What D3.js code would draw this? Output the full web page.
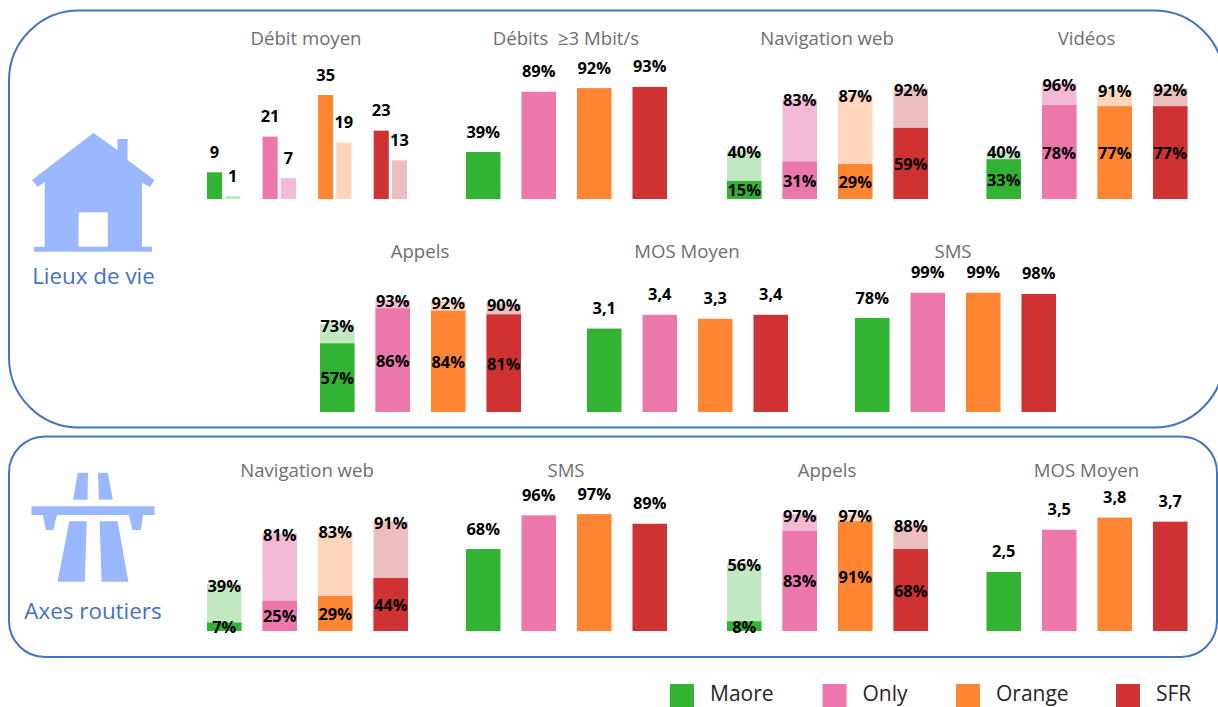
<!DOCTYPE html>
<html lang="fr">
<head>
<meta charset="utf-8">
<script src="https://cdn.jsdelivr.net/npm/d3@7"></script>
<style>
  html, body { margin: 0; background: #fff; overflow: hidden; }
  svg { display: block; font-family: "Open Sans", sans-serif; }
  .title { fill: #6f6f6f; font-size: 18.6px; text-anchor: middle; white-space: pre; }
  .value { fill: #000; font-size: 16.4px; font-weight: 700; text-anchor: middle; dominant-baseline: central; }
  .place { fill: #4472c4; font-size: 22.4px; text-anchor: middle; }
  .legend { fill: #262626; font-size: 21px; }
</style>
</head>
<body>
<div id="chart"></div>
<script>
// operators, same order in every panel
const operators = ['Maore', 'Only', 'Orange', 'SFR'];

// Lieux de vie
const debitMoyen = [9, 21, 35, 23];
const debitMoyenClair = [1, 7, 19, 13];
const debits3Mbit = [39, 89, 92, 93];
const navWebLieux = [15, 31, 29, 59];
const navWebLieuxClair = [40, 83, 87, 92];
const videos = [33, 78, 77, 77];
const videosClair = [40, 96, 91, 92];
const appelsLieux = [57, 86, 84, 81];
const appelsLieuxClair = [73, 93, 92, 90];
const mosLieux = [3.06, 3.4, 3.3, 3.4];
const smsLieux = [78, 99, 99, 98];

// Axes routiers
const navWebAxes = [7, 25, 29, 44];
const navWebAxesClair = [39, 81, 83, 91];
const smsAxes = [68, 96, 97, 89];
const appelsAxes = [8, 83, 91, 68];
const appelsAxesClair = [56, 97, 97, 88];
const mosAxes = [2.46, 3.5, 3.8, 3.7];

const colors = d3.scaleOrdinal().domain(operators).range(['#33b333', '#eb77ab', '#ff8533', '#ce3232']);
const lightColors = d3.scaleOrdinal().domain(operators).range(['#c1e8c1', '#f4b9d4', '#ffd6bb', '#ebbfbf']);

// y scales give a bar height in px, MOS runs from 1 to 5
const yPct = d3.scaleLinear().domain([0, 100]).range([0, 120.5]);
const yDebit = d3.scaleLinear().domain([0, 35]).range([0, 104]);
const yMos = d3.scaleLinear().domain([1, 5]).range([0, 162]);

const fr = d3.formatLocale({ decimal: ',', thousands: ' ', grouping: [3], currency: ['', '€'] });
const pct = d => d + '%';
const mos = fr.format('.1f');
const raw = d => String(d);

const panels = [
  { title: 'Débits  ≥3 Mbit/s', x: 466, base: 199, titleY: 45, dark: debits3Mbit, y: yPct, fmt: pct },
  { title: 'Navigation web', x: 727, base: 199, titleY: 45, dark: navWebLieux, light: navWebLieuxClair, y: yPct, fmt: pct },
  { title: 'Vidéos', x: 986.5, base: 199, titleY: 45, dark: videos, light: videosClair, y: yPct, fmt: pct },
  { title: 'Appels', x: 320, base: 412, titleY: 258, dark: appelsLieux, light: appelsLieuxClair, y: yPct, fmt: pct },
  { title: 'MOS Moyen', x: 587, base: 412, titleY: 258, dark: mosLieux, y: yMos, fmt: mos },
  { title: 'SMS', x: 855, base: 412, titleY: 258, titleDx: -2, dark: smsLieux, y: yPct, fmt: pct },
  { title: 'Navigation web', x: 207, base: 631, titleY: 477, dark: navWebAxes, light: navWebAxesClair, y: yPct, fmt: pct },
  { title: 'SMS', x: 466, base: 631, titleY: 477, dark: smsAxes, y: yPct, fmt: pct },
  { title: 'Appels', x: 727, base: 631, titleY: 477, dark: appelsAxes, light: appelsAxesClair, y: yPct, fmt: pct },
  { title: 'MOS Moyen', x: 986.5, base: 631, titleY: 477, dark: mosAxes, y: yMos, fmt: mos }
];

const svg = d3.select('#chart').append('svg').attr('width', 1218).attr('height', 707);

// rounded frames
svg.append('rect').attr('x', 9).attr('y', 10.5).attr('width', 1215).attr('height', 417).attr('rx', 70)
  .attr('fill', 'none').attr('stroke', '#4472c4').attr('stroke-width', 2);
svg.append('rect').attr('x', 9).attr('y', 436.5).attr('width', 1208).attr('height', 220.5).attr('rx', 36)
  .attr('fill', 'none').attr('stroke', '#4472c4').attr('stroke-width', 2);

// house icon
const iconColor = '#9ab8ff';
svg.append('path').attr('fill', iconColor)
  .attr('d', 'M93.4 133L117.5 150V139H127.6V160L154.5 180L150 187L142 182.7V246.7H152V251.7H34V246.7H44.7V182L37.7 187L32 180Z');
svg.append('rect').attr('x', 78.6).attr('y', 212.3).attr('width', 29.2).attr('height', 34.4).attr('fill', '#fff');

// motorway icon
svg.append('path').attr('fill', iconColor)
  .attr('d', 'M77.8 472.7H88L87.5 499.7H73Z M98 472.7H107.8L112.8 499.7H98.8Z M31.5 506.3H154.5V515H143L141 530H132.3L129 515H57L53.3 530H46L42.8 515H31.5Z M69.3 521.3H86.8L84.8 581.7H57.6Z M99.6 521.3H117.5L128.4 581.7H101.6Z');

svg.append('text').attr('class', 'place').attr('x', 93.5).attr('y', 284).text('Lieux de vie');
svg.append('text').attr('class', 'place').attr('x', 93).attr('y', 619).text('Axes routiers');

function xScale(x0) {
  return d3.scaleBand().domain(operators).range([x0, x0 + 201]).paddingInner(0.378);
}

function drawPanel(p) {
  const x = xScale(p.x);
  const g = svg.append('g');

  g.append('text').attr('class', 'title')
    .attr('x', p.x + 100 + (p.titleDx || 0)).attr('y', p.titleY).text(p.title);

  if (p.light) {
    g.selectAll('.light').data(p.light).join('rect').attr('class', 'light')
      .attr('x', (d, i) => x(operators[i]))
      .attr('width', x.bandwidth())
      .attr('y', d => p.base - p.y(d))
      .attr('height', d => p.y(d))
      .attr('fill', (d, i) => lightColors(operators[i]));
  }

  g.selectAll('.dark').data(p.dark).join('rect').attr('class', 'dark')
    .attr('x', (d, i) => x(operators[i]))
    .attr('width', x.bandwidth())
    .attr('y', d => p.base - p.y(d))
    .attr('height', d => p.y(d))
    .attr('fill', (d, i) => colors(operators[i]));

  if (p.light) {
    // stacked look: dark label in the middle of its bar, light label sits on the top edge
    g.selectAll('.lab-dark').data(p.dark).join('text').attr('class', 'value lab-dark')
      .attr('x', (d, i) => x(operators[i]) + x.bandwidth() / 2)
      .attr('y', d => p.base - p.y(d) / 2)
      .text(p.fmt);
    g.selectAll('.lab-light').data(p.light).join('text').attr('class', 'value lab-light')
      .attr('x', (d, i) => x(operators[i]) + x.bandwidth() / 2)
      .attr('y', d => p.base - p.y(d) + 1)
      .text(p.fmt);
  } else {
    g.selectAll('.lab').data(p.dark).join('text').attr('class', 'value lab')
      .attr('x', (d, i) => x(operators[i]) + x.bandwidth() / 2)
      .attr('y', d => p.base - p.y(d) - 21)
      .text(p.fmt);
  }
}

panels.forEach(drawPanel);

// Débit moyen has two thin bars per operator, drawn side by side
(function drawDebit() {
  const base = 199;
  const x = d3.scaleBand().domain(operators).range([207, 407]).paddingInner(0.4);
  const inner = d3.scaleBand().domain(['dark', 'light']).range([0, x.bandwidth()]).paddingInner(0.17);
  const g = svg.append('g');

  g.append('text').attr('class', 'title').attr('x', 306).attr('y', 45).text('Débit moyen');

  [['dark', debitMoyen, colors], ['light', debitMoyenClair, lightColors]].forEach(([key, values, color]) => {
    g.selectAll('.bar-' + key).data(values).join('rect').attr('class', 'bar-' + key)
      .attr('x', (d, i) => x(operators[i]) + inner(key))
      .attr('width', inner.bandwidth())
      .attr('y', d => base - yDebit(d))
      .attr('height', d => yDebit(d))
      .attr('fill', (d, i) => color(operators[i]));
    g.selectAll('.lab-' + key).data(values).join('text').attr('class', 'value lab-' + key)
      .attr('x', (d, i) => x(operators[i]) + inner(key) + inner.bandwidth() / 2)
      .attr('y', d => base - yDebit(d) - 21)
      .text(raw);
  });
})();

// legend
const legendX = d3.scaleOrdinal().domain(operators).range([670, 822.5, 956, 1116]);
const legend = svg.append('g').selectAll('g').data(operators).join('g')
  .attr('transform', d => `translate(${legendX(d)},684)`);
legend.append('rect').attr('width', 24).attr('height', 24).attr('fill', d => colors(d));
legend.append('text').attr('class', 'legend').attr('x', 40).attr('y', 16.5).text(d => d);
</script>
</body>
</html>
